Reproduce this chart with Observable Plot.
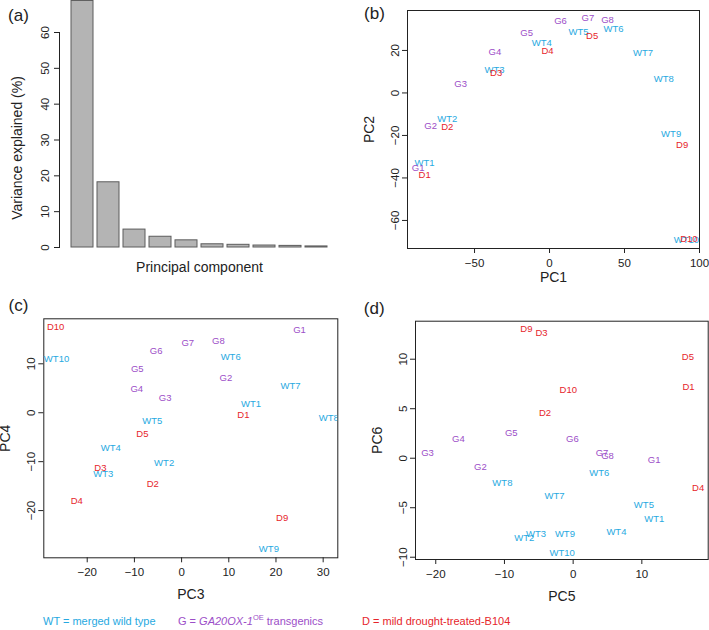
<!DOCTYPE html>
<html><head><meta charset="utf-8">
<script src="https://cdn.jsdelivr.net/npm/d3@7"></script>
<script src="https://cdn.jsdelivr.net/npm/@observablehq/plot@0.6"></script>
<style>
body{margin:0;background:#fff;}
#fig{position:relative;width:709px;height:630px;overflow:hidden;font-family:"Liberation Sans",Arial,sans-serif;background:#fff;}
#fig svg{position:absolute;overflow:visible;}
.leg{position:absolute;top:614px;font-size:11px;line-height:14px;white-space:nowrap;}
.leg sup{font-size:7.5px;vertical-align:5px;line-height:0;}
</style></head><body><div id="fig"></div>
<script>
// ---- data ----
const components = ["PC1","PC2","PC3","PC4","PC5","PC6","PC7","PC8","PC9","PC10"];
const variance = [68.8, 18.2, 5.0, 3.0, 2.0, 0.9, 0.75, 0.55, 0.45, 0.3];
const varianceTicks = [0, 10, 20, 30, 40, 50, 60];

const samples = ["WT1","WT2","WT3","WT4","WT5","WT6","WT7","WT8","WT9","WT10",
                 "G1","G2","G3","G4","G5","G6","G7","G8",
                 "D1","D2","D3","D4","D5","D9","D10"];
const groups = ["WT","WT","WT","WT","WT","WT","WT","WT","WT","WT",
                "G","G","G","G","G","G","G","G",
                "D","D","D","D","D","D","D"];
const groupNames = ["WT", "G", "D"];
const groupColors = ["#27a9e1", "#9c4ec8", "#e6252b"];

const pc1 = [-83.3,-68.2,-36.7,-5.1,19.3,42.7,62.4,76.2,81.1,91.3, -87.6,-79.3,-59.3,-36.4,-15.3,7.3,25.6,38.7, -83.3,-68.2,-35.6,-1.3,28.4,88.4,92.9];
const pc2 = [-33.1,-12.3,10.9,23.4,28.6,30.2,18.9,6.7,-19.1,-69.4, -35.5,-15.5,4.4,19.2,28.3,34.1,35.2,34.4, -38.6,-15.8,9.5,19.7,26.6,-24.5,-68.8];
const pc3 = [14.7,-3.7,-16.6,-15.0,-6.2,10.4,23.1,31.2,18.5,-26.5, 25.0,9.4,-3.5,-9.5,-9.4,-5.4,1.3,7.8, 13.1,-6.1,-17.2,-22.2,-8.3,21.3,-26.7];
const pc4 = [1.8,-10.3,-12.5,-7.2,-1.6,11.4,5.4,-1.0,-27.9,10.9, 17.0,7.2,3.0,4.9,8.9,12.6,14.3,14.7, -0.5,-14.5,-11.2,-18.1,-4.4,-21.5,17.5];
const pc5 = [11.8,-7.1,-5.4,6.3,10.3,3.8,-2.7,-10.3,-1.2,-1.6, 11.8,-13.5,-21.2,-16.7,-9.0,-0.1,4.2,5.0, 16.8,-4.1,-4.6,18.2,16.7,-6.8,-0.7];
const pc6 = [-6.1,-8.1,-7.7,-7.4,-4.7,-1.5,-3.8,-2.5,-7.7,-9.6, -0.2,-0.9,0.5,1.9,2.6,1.9,0.5,0.2, 7.2,4.6,12.7,-3.0,10.2,13.1,6.9];

const ticksPC1 = [-50, 0, 50, 100];
const ticksPC2 = [-60, -40, -20, 0, 20];
const ticksPC3 = [-20, -10, 0, 10, 20, 30];
const ticksPC4 = [-20, -10, 0, 10];
const ticksPC5 = [-20, -10, 0, 10];
const ticksPC6 = [-10, -5, 0, 5, 10];

const domainPC1 = [-94.7, 100], domainPC2 = [-73.2, 38.8];
const domainPC3 = [-29.2, 33.1], domainPC4 = [-29.65, 19.2];
const domainPC5 = [-22.95, 19.66], domainPC6 = [-10.23, 13.84];

// ---- drawing ----
const fig = document.getElementById("fig");
const FONT = "'Liberation Sans', Arial, sans-serif";
const INK = "#222";

function place(svg, left, top) {
  svg.style.left = left + "px";
  svg.style.top = top + "px";
  fig.appendChild(svg);
}

// Panel (a)
place(Plot.plot({
  width: 350, height: 290,
  marginLeft: 59, marginRight: 11, marginTop: 32, marginBottom: 43,
  style: {fontFamily: FONT, background: "transparent", color: INK},
  x: {type: "band", domain: components, paddingInner: 0.2 / 1.2, paddingOuter: 0, insetLeft: 10, insetRight: 11, axis: null},
  y: {domain: [0, 60], axis: null},
  marks: [
    Plot.barY(variance, {x: components, y: variance, fill: "#b4b4b4", stroke: "#5c5c5c", strokeWidth: 1}),
    Plot.frame({anchor: "left", stroke: INK}),
    Plot.axisY({ticks: varianceTicks, tickSize: 5, tickPadding: 6, tickRotate: -90, fontSize: 11.5, label: null, color: INK}),
    Plot.text(["Variance explained (%)"], {frameAnchor: "left", dx: -42, dy: 8, rotate: -90, textAnchor: "middle", lineAnchor: "middle", fontSize: 14, fill: INK}),
    Plot.text(["Principal component"], {frameAnchor: "bottom", dy: 24, textAnchor: "middle", fontSize: 14, fill: INK}),
    Plot.text(["(a)"], {frameAnchor: "top-left", dx: -41, dy: -17, fontSize: 17, fill: INK, textAnchor: "middle", lineAnchor: "middle"})
  ]
}), 0, 0);

function scatter(o) {
  return Plot.plot({
    width: o.width, height: o.height,
    marginLeft: o.ml, marginRight: o.mr, marginTop: o.mt, marginBottom: o.mb,
    style: {fontFamily: FONT, background: "transparent", color: INK},
    x: {domain: o.xDomain},
    y: {domain: o.yDomain},
    color: {domain: groupNames, range: groupColors},
    marks: [
      Plot.frame({stroke: INK}),
      Plot.axisX({ticks: o.xTicks, tickSize: 5, tickPadding: 5, fontSize: 11.5, label: null, color: INK}),
      Plot.axisY({ticks: o.yTicks, tickSize: 5, tickPadding: 4, tickRotate: -90, fontSize: 11.5, label: null, color: INK}),
      Plot.text(samples, {x: o.xs, y: o.ys, text: d => d, fill: groups, clip: true, fontSize: 9.5}),
      Plot.text([o.xLabel], {frameAnchor: "bottom", dy: o.xdy, textAnchor: "middle", fontSize: 14, fill: INK}),
      Plot.text([o.yLabel], {frameAnchor: "left", dx: -38, rotate: -90, textAnchor: "middle", lineAnchor: "middle", fontSize: 14, fill: INK}),
      Plot.text([o.tag], {frameAnchor: "top-left", dx: o.tdx, dy: o.tdy, fontSize: 17, fill: INK, textAnchor: "middle", lineAnchor: "middle"})
    ]
  });
}

// Panel (b)
place(scatter({width: 359, height: 300, ml: 57, mr: 10, mt: 10, mb: 52,
  xDomain: domainPC1, yDomain: domainPC2, xTicks: ticksPC1, yTicks: ticksPC2,
  xs: pc1, ys: pc2, xLabel: "PC1", yLabel: "PC2", xdy: 33, tag: "(b)", tdx: -33, tdy: 3.5}), 350, 0);

// Panel (c)
place(scatter({width: 350, height: 310, ml: 43.3, mr: 12.7, mt: 28.3, mb: 42.7,
  xDomain: domainPC3, yDomain: domainPC4, xTicks: ticksPC3, yTicks: ticksPC4,
  xs: pc3, ys: pc4, xLabel: "PC3", yLabel: "PC4", xdy: 41, tag: "(c)", tdx: -25.3, tdy: -13.3}), 0, 290);

// Panel (d)
place(scatter({width: 359, height: 310, ml: 65, mr: 1.3, mt: 30.7, mb: 41,
  xDomain: domainPC5, yDomain: domainPC6, xTicks: ticksPC5, yTicks: ticksPC6,
  xs: pc5, ys: pc6, xLabel: "PC5", yLabel: "PC6", xdy: 41, tag: "(d)", tdx: -41.3, tdy: -12.4}), 350, 290);

// Legend
const legendItems = [
  {html: "WT = merged wild type", color: groupColors[0], left: 43},
  {html: "G = <i>GA20OX-1</i><sup>OE</sup> transgenics", color: groupColors[1], left: 178},
  {html: "D = mild drought-treated-B104", color: groupColors[2], left: 362}
];
for (const it of legendItems) {
  const s = document.createElement("div");
  s.className = "leg";
  s.style.left = it.left + "px";
  s.style.color = it.color;
  s.innerHTML = it.html;
  fig.appendChild(s);
}
</script>
</body></html>
